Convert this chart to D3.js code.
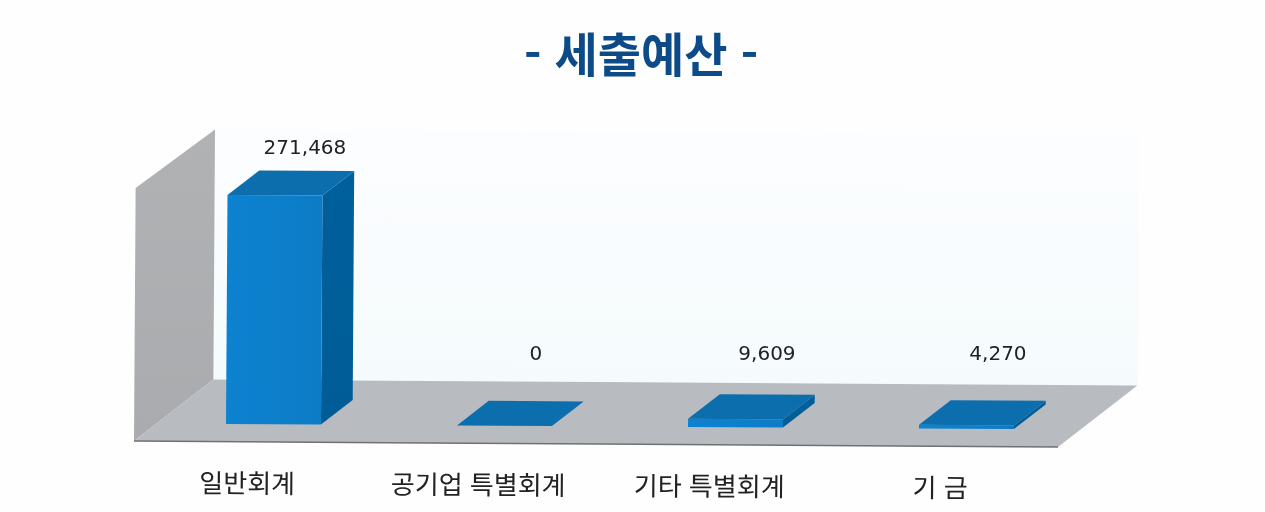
<!DOCTYPE html>
<html lang="ko">
<head>
<meta charset="utf-8">
<title>세출예산</title>
<script src="https://cdn.jsdelivr.net/npm/d3@7"></script>
<style>
  html, body { margin: 0; padding: 0; background: #fefefe; }
  svg { display: block; }
  text { font-family: "Noto Sans CJK KR", "Noto Sans", sans-serif; }
</style>
</head>
<body>
<div id="chart"></div>
<script>
// Chart data
const titleText = "- 세출예산 -"
const categories = ["일반회계", "공기업 특별회계", "기타 특별회계", "기 금"]
const values = [271468, 0, 9609, 4270]
const valueMax = 300000

const width = 1265
const height = 512

// Front-left corner of the floor is where the scales start
const floorLeft = 134
const floorRight = 1058
const floorFront = 441
const wallTop = 188

// Oblique projection of the 3D box: how far one full unit of depth moves a point
const depthX = 79
const depthY = -62
const barDepthStart = 0.285
const barDepthSize = 0.4
// The back of the box looks a bit shorter than the front
const backWallDrop = 3

const xScale = d3.scaleBand()
  .domain(categories)
  .range([floorLeft, floorRight])
  .paddingInner(0.589)
  .paddingOuter(0.2945)
  .align(0.51)

// Band without padding, labels and floor follow this one
const slotScale = d3.scaleBand()
  .domain(categories)
  .range([floorLeft, floorRight])

const yScale = d3.scaleLinear()
  .domain([0, valueMax])
  .range([floorFront, wallTop])

const fmt = d3.format(",")

// Turn x, y and depth into a screen point
function project(x, y, depth) {
  return [x + depth * depthX, y + depth * depthY]
}

function polygonPath(points) {
  return d3.line()(points) + "Z"
}

const svg = d3.select("#chart")
  .append("svg")
  .attr("width", width)
  .attr("height", height)

// Gradients and the soft scanned look
const defs = svg.append("defs")

function addGradient(id, x2, y2, stops) {
  const g = defs.append("linearGradient")
    .attr("id", id)
    .attr("x1", 0).attr("y1", 0)
    .attr("x2", x2).attr("y2", y2)
  stops.forEach(s => g.append("stop").attr("offset", s[0]).attr("stop-color", s[1]))
}

addGradient("backWall", 0, 1, [[0, "#fcfdfe"], [1, "#f5fbfd"]])
addGradient("sideWall", 0, 1, [[0, "#b1b2b4"], [1, "#a9abae"]])
addGradient("barFront", 1, 0, [[0, "#0a82d0"], [1, "#097cc6"]])
addGradient("barSide", 0, 1, [[0, "#06609c"], [1, "#055c96"]])

defs.append("filter")
  .attr("id", "scan")
  .attr("x", "-5%").attr("y", "-5%")
  .attr("width", "110%").attr("height", "110%")
  .append("feGaussianBlur")
  .attr("stdDeviation", 0.7)

const root = svg.append("g").attr("filter", "url(#scan)")

// Title
root.append("text")
  .attr("x", 641)
  .attr("y", 72)
  .attr("text-anchor", "middle")
  .attr("font-size", 47)
  .attr("font-weight", 700)
  .attr("fill", "#104c88")
  .text(titleText)

// The page was scanned a little crooked, so the plot leans slightly
const plot = root.append("g")
  .attr("transform", `rotate(0.37 ${floorLeft} ${floorFront})`)

const baseY = yScale(0)
const maxY = yScale(valueMax)

// Back wall
plot.append("path")
  .attr("d", polygonPath([
    project(floorLeft, maxY + backWallDrop, 1),
    project(floorRight, maxY + backWallDrop, 1),
    project(floorRight, baseY, 1),
    project(floorLeft, baseY, 1)
  ]))
  .attr("fill", "url(#backWall)")

// Left wall
plot.append("path")
  .attr("d", polygonPath([
    project(floorLeft, maxY, 0),
    project(floorLeft, maxY + backWallDrop, 1),
    project(floorLeft, baseY, 1),
    project(floorLeft, baseY, 0)
  ]))
  .attr("fill", "url(#sideWall)")

// Floor
plot.append("path")
  .attr("d", polygonPath([
    project(floorLeft, baseY, 0),
    project(floorLeft, baseY, 1),
    project(floorRight, baseY, 1),
    project(floorRight, baseY, 0)
  ]))
  .attr("fill", "#b8bbc0")

plot.append("line")
  .attr("x1", floorLeft)
  .attr("x2", floorRight)
  .attr("y1", baseY)
  .attr("y2", baseY)
  .attr("stroke", "#6f7174")
  .attr("stroke-width", 1.5)

// Bars, each one drawn as side, front and top faces
const bars = plot.selectAll(".bar")
  .data(categories)
  .enter()
  .append("g")
  .attr("class", "bar")

const d0 = barDepthStart
const d1 = barDepthStart + barDepthSize

function barBox(cat, i) {
  return {
    left: xScale(cat),
    right: xScale(cat) + xScale.bandwidth(),
    y: yScale(values[i])
  }
}

bars.append("path")
  .attr("d", (cat, i) => {
    const b = barBox(cat, i)
    return polygonPath([
      project(b.right, b.y, d0),
      project(b.right, b.y, d1),
      project(b.right, baseY, d1),
      project(b.right, baseY, d0)
    ])
  })
  .attr("fill", "url(#barSide)")

bars.append("path")
  .attr("d", (cat, i) => {
    const b = barBox(cat, i)
    return polygonPath([
      project(b.left, b.y, d0),
      project(b.right, b.y, d0),
      project(b.right, baseY, d0),
      project(b.left, baseY, d0)
    ])
  })
  .attr("fill", "url(#barFront)")

bars.append("path")
  .attr("d", (cat, i) => {
    const b = barBox(cat, i)
    return polygonPath([
      project(b.left, b.y, d0),
      project(b.left, b.y, d1),
      project(b.right, b.y, d1),
      project(b.right, b.y, d0)
    ])
  })
  .attr("fill", "#0a6ead")

// Value labels sit over the bar, short bars push them clear of the floor
root.selectAll(".value-label")
  .data(categories)
  .enter()
  .append("text")
  .attr("class", "value-label")
  .attr("x", cat => xScale(cat) + xScale.bandwidth() / 2 + d1 * depthX)
  .attr("y", (cat, i) => {
    const backTop = yScale(values[i]) + d1 * depthY
    return Math.min(backTop - 16, baseY + depthY - 19)
  })
  .attr("text-anchor", "middle")
  .attr("font-size", 20)
  .attr("fill", "#222222")
  .style("font-family", '"DejaVu Sans", sans-serif')
  .text((cat, i) => fmt(values[i]))

// Category labels under the floor
plot.selectAll(".cat-label")
  .data(categories)
  .enter()
  .append("text")
  .attr("class", "cat-label")
  .attr("x", cat => slotScale(cat) + slotScale.bandwidth() / 2 - 2)
  .attr("y", 492)
  .attr("text-anchor", "middle")
  .attr("font-size", 26)
  .attr("fill", "#222222")
  .text(cat => cat)
</script>
</body>
</html>
